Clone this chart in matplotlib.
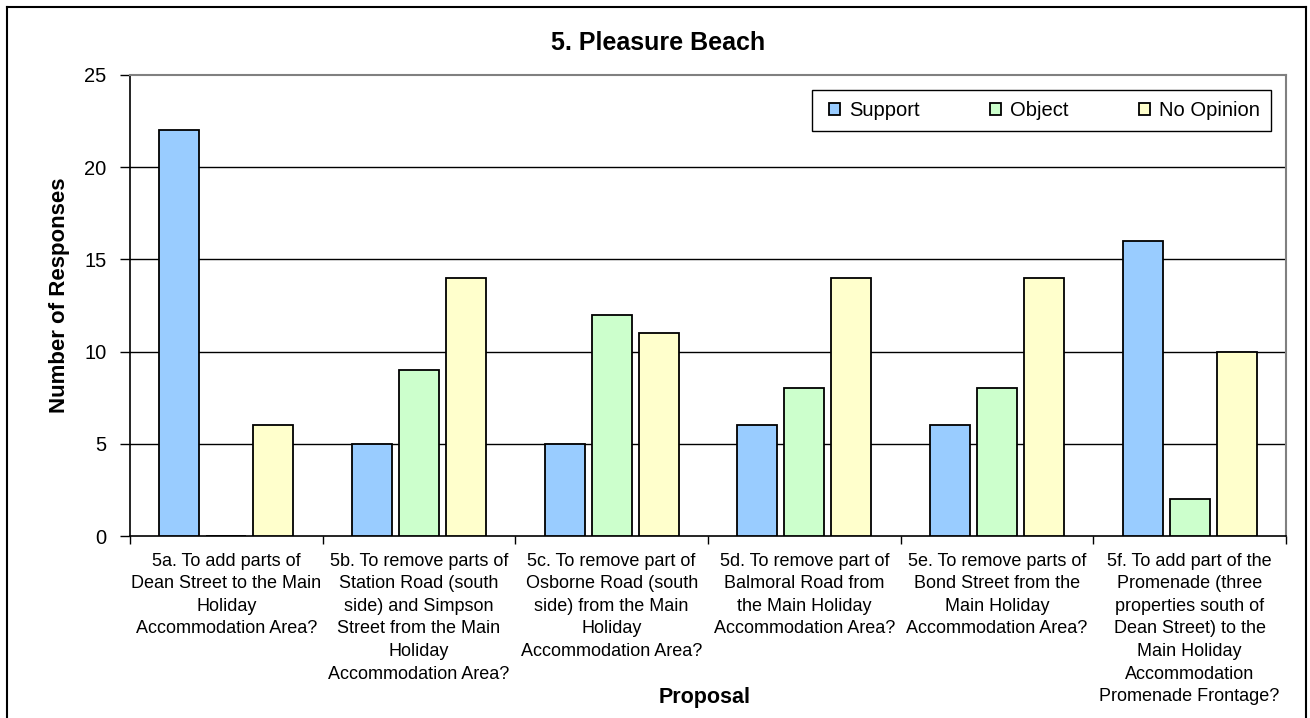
import matplotlib
matplotlib.use("Agg")
import matplotlib.pyplot as plt
from matplotlib.lines import Line2D
from matplotlib.patches import Rectangle
import numpy as np

plt.rcParams['font.family'] = ['Liberation Sans', 'DejaVu Sans']

categories = [
    "5a. To add parts of\nDean Street to the Main\nHoliday\nAccommodation Area?",
    "5b. To remove parts of\nStation Road (south\nside) and Simpson\nStreet from the Main\nHoliday\nAccommodation Area?",
    "5c. To remove part of\nOsborne Road (south\nside) from the Main\nHoliday\nAccommodation Area?",
    "5d. To remove part of\nBalmoral Road from\nthe Main Holiday\nAccommodation Area?",
    "5e. To remove parts of\nBond Street from the\nMain Holiday\nAccommodation Area?",
    "5f. To add part of the\nPromenade (three\nproperties south of\nDean Street) to the\nMain Holiday\nAccommodation\nPromenade Frontage?",
]
support = [22, 5, 5, 6, 6, 16]
object_ = [0, 9, 12, 8, 8, 2]
no_opinion = [6, 14, 11, 14, 14, 10]

series = [("Support", support, "#99CCFF"),
          ("Object", object_, "#CCFFCC"),
          ("No Opinion", no_opinion, "#FFFFCC")]

W, H = 1310, 718
fig = plt.figure(figsize=(W / 100, H / 100), dpi=100)
ax = fig.add_axes([130 / W, (H - 536) / H, (1286 - 130) / W, (536 - 75) / H])

x = np.arange(len(categories))
bar_w = 0.207
step = 0.244
for i, (name, vals, col) in enumerate(series):
    ax.bar(x + (i - 1) * step, vals, width=bar_w, color=col,
           edgecolor="black", linewidth=1.3, label=name, zorder=3)

ax.set_xlim(-0.5, len(categories) - 0.5)
ax.set_ylim(0, 25)
ax.set_yticks([0, 5, 10, 15, 20, 25])
ax.tick_params(axis="y", labelsize=14.5, length=7, direction="out", width=1, pad=10)

ax.set_xticks(x)
ax.set_xticklabels(categories, fontsize=13, linespacing=1.43, ha="center")
ax.set_xticks(np.arange(-0.5, len(categories)), minor=True)
ax.tick_params(axis="x", which="major", length=0, pad=12)
ax.tick_params(axis="x", which="minor", length=6, direction="out", width=1)

for yv in [5, 10, 15, 20]:
    ax.axhline(yv, color="black", linewidth=1, zorder=1)

for side in ["left", "bottom"]:
    ax.spines[side].set_color("black")
    ax.spines[side].set_linewidth(1.2)
for side in ["top", "right"]:
    ax.spines[side].set_color("#808080")
    ax.spines[side].set_linewidth(1.5)

fig.text(60 / W, (H - 295) / H, "Number of Responses", fontsize=16, fontweight="bold",
         ha="center", va="center", rotation=90)
fig.text(705 / W, (H - 697) / H, "Proposal", fontsize=15.5, fontweight="bold",
         ha="center", va="center")
fig.text(658 / W, (H - 43) / H, "5. Pleasure Beach", fontsize=18, fontweight="bold",
         ha="center", va="center")

# legend box with entries centred inside it
lx0, lx1, ly0, ly1 = 812, 1271, 90, 131
ax.add_patch(Rectangle((lx0 / W, (H - ly1) / H), (lx1 - lx0) / W, (ly1 - ly0) / H,
                       transform=fig.transFigure, facecolor="white",
                       edgecolor="black", linewidth=1, zorder=4, clip_on=False))
leg = ax.legend(loc="center", ncol=3,
                bbox_to_anchor=(((lx0 + lx1) / 2 + 3) / W, (H - (ly0 + ly1) / 2) / H),
                bbox_transform=fig.transFigure, fontsize=14.5, frameon=False,
                handlelength=0.55, handleheight=0.55, handletextpad=0.45,
                columnspacing=3.5, borderpad=0, borderaxespad=0)
leg.set_zorder(5)

# outer chart border
x0, x1, y_top = 7 / W, 1306 / W, (H - 7) / H
for xs, ys in [([x0, x0], [-0.05, y_top]), ([x0, x1], [y_top, y_top]), ([x1, x1], [y_top, -0.05])]:
    fig.add_artist(Line2D(xs, ys, color="black", linewidth=1.5, transform=fig.transFigure))

fig.savefig("out.png", dpi=100)
